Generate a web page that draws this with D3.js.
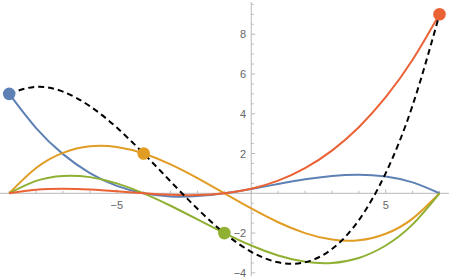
<!DOCTYPE html>
<html><head><meta charset="utf-8">
<script src="https://cdn.jsdelivr.net/npm/d3@7"></script>
<style>html,body{margin:0;padding:0;background:#fff}</style>
</head><body>
<svg id="c" width="449" height="278"></svg>
<script>
// x sample positions
const xs = [-9,-8,-7,-6,-5,-4,-3,-2,-1,0,1,2,3,4,5,6,7];
// curve values at each x
const blueVals   = [5,3.281,1.969,1.016,0.375,0,-0.156,-0.141,0,0.219,0.469,0.703,0.875,0.938,0.844,0.547,0];
const orangeVals = [0,1.273,2.036,2.364,2.327,2,1.455,0.764,0,-0.764,-1.455,-2,-2.327,-2.364,-2.036,-1.273,0];
const greenVals  = [0,0.625,0.875,0.813,0.5,0,-0.625,-1.313,-2,-2.625,-3.125,-3.438,-3.5,-3.25,-2.625,-1.563,0];
const redVals    = [0,0.179,0.230,0.192,0.102,0,-0.077,-0.089,0,0.230,0.639,1.266,2.148,3.324,4.832,6.712,9];
const sumVals    = [5,5.358,5.110,4.384,3.304,2,0.597,-0.779,-2,-2.940,-3.472,-3.469,-2.804,-1.353,1.015,4.424,9];
// highlighted points
const ptX = [-9,-4,-1,7];
const ptY = [5,2,-2,9];
const xTicks = [-5,5];
const yTicks = [-4,-2,2,4,6,8];

const colors = ["#5E81B5","#E19C24","#8FB032","#EB6235"];
const series = [blueVals, orangeVals, greenVals, redVals];

const svg = d3.select("#c");
const x = d3.scaleLinear().domain([-9,7]).range([9.2,439.5]);
const y = d3.scaleLinear().domain([0,8]).range([193.3,34.2]);

const axisCol = "#b9b9b9";
const textCol = "#666";

// x axis
svg.append("line").attr("x1",0).attr("x2",449).attr("y1",y(0)).attr("y2",y(0))
  .attr("stroke",axisCol).attr("stroke-width",1);
for (let v=-9; v<=7; v++){
  const major = xTicks.includes(v);
  svg.append("line").attr("x1",x(v)).attr("x2",x(v))
    .attr("y1",y(0)).attr("y2",y(0)-(major?4:2.5)).attr("stroke",axisCol).attr("stroke-width",1);
}
xTicks.forEach(v=>{
  svg.append("text").attr("x",x(v)).attr("y",y(0)+16).attr("text-anchor","middle")
    .attr("font-family","Liberation Sans, Arial, sans-serif").attr("font-size",11)
    .attr("fill",textCol).text(v<0?"\u2212"+Math.abs(v):v);
});
// y axis
svg.append("line").attr("x1",x(0)).attr("x2",x(0)).attr("y1",2).attr("y2",276)
  .attr("stroke",axisCol).attr("stroke-width",1);
for (let v=-4; v<=9.5; v+=0.5){
  if (v===0) continue;
  const major = yTicks.includes(v);
  svg.append("line").attr("x1",x(0)).attr("x2",x(0)+(major?4:2.5))
    .attr("y1",y(v)).attr("y2",y(v)).attr("stroke",axisCol).attr("stroke-width",1);
}
yTicks.forEach(v=>{
  svg.append("text").attr("x",x(0)-5).attr("y",y(v)+4).attr("text-anchor","end")
    .attr("font-family","Liberation Sans, Arial, sans-serif").attr("font-size",11)
    .attr("fill",textCol).text(v<0?"\u2212"+Math.abs(v):v);
});

const line = d3.line().x((d,i)=>x(xs[i])).y(d=>y(d)).curve(d3.curveNatural);
series.forEach((s,i)=>{
  svg.append("path").attr("d",line(s)).attr("fill","none")
    .attr("stroke",colors[i]).attr("stroke-width",2);
});
svg.append("path").attr("d",line(sumVals)).attr("fill","none")
  .attr("stroke","#000").attr("stroke-width",2).attr("stroke-dasharray","6,4");

ptX.forEach((v,i)=>{
  svg.append("circle").attr("cx",x(v)).attr("cy",y(ptY[i])).attr("r",6.3)
    .attr("fill",colors[i]);
});
</script>
</body></html>
